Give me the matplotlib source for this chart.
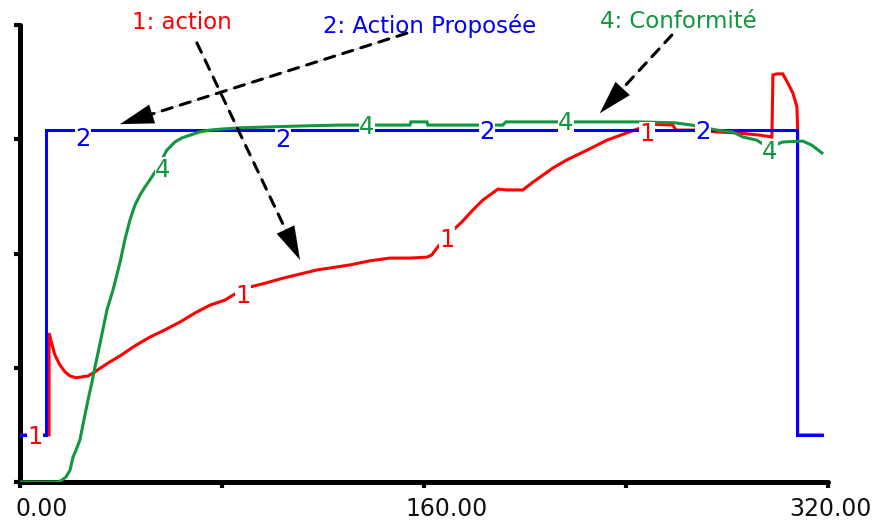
import numpy as np
import matplotlib
matplotlib.use("Agg")
import matplotlib.pyplot as plt

# ---- simulation output (time, value on a 0-100 scale) ----
t_action = [0, 11.7, 11.7, 12.9, 14.0, 16.0, 18.0, 20.0, 22.4, 24.7, 27.1, 29.9, 31.9,
            35.8, 39.8, 45.7, 51.6, 57.6, 63.5, 69.5, 75.4, 81.3, 84.5, 90.0, 97.2,
            104.3, 111.0, 117.7, 124.9, 130.8, 138.7, 146.6, 154.5, 161.3, 163.2,
            165.2, 170.4, 175.1, 179.4, 183.4, 189.4, 192.9, 199.2, 203.2, 211.1,
            216.7, 224.6, 232.5, 240.4, 244.4, 249.5, 258.6, 259.8, 269.3, 276.0,
            283.9, 293.0, 297.8, 298.2, 299.8, 302.1, 304.1, 306.1, 307.7, 308.0,
            308.0, 317.6]
v_action = [10.3, 10.3, 32.6, 30.0, 27.8, 25.6, 24.1, 23.2, 22.8, 23.0, 23.2, 24.1, 24.9,
            26.3, 27.6, 29.8, 31.7, 33.3, 35.0, 37.0, 38.7, 39.8, 40.9, 42.5, 43.5,
            44.6, 45.5, 46.4, 47.0, 47.5, 48.4, 49.0, 49.0, 49.2, 49.7,
            51.2, 54.5, 56.9, 59.5, 61.7, 64.1, 63.9, 63.9, 65.6, 68.7,
            70.5, 72.6, 74.8, 76.4, 77.2, 78.3, 78.1, 77.0, 77.0, 76.6,
            76.4, 75.9, 75.5, 89.1, 89.3, 89.3, 87.3, 85.1, 82.1, 77.0,
            10.3, 10.3]

t_proposee = [0, 10.5, 10.5, 307.7, 307.7, 317.6]
v_proposee = [10.3, 10.3, 77.0, 77.0, 10.3, 10.3]

t_conform = [0, 15.2, 16.8, 18.4, 20.0, 21.2, 22.4, 23.9, 25.5, 27.1, 28.7, 29.9, 31.9,
             33.4, 34.6, 37.0, 39.8, 41.7, 43.7, 45.7, 47.7, 49.7, 51.6, 53.6, 55.6,
             58.3, 61.5, 64.3, 67.5, 71.4, 75.4, 79.3, 87.3, 99.1, 111.0, 126.8,
             154.5, 154.9, 161.3, 161.6, 191.3, 192.5, 244.4, 259.4, 266.1, 276.0,
             282.3, 286.3, 291.8, 295.0, 297.8, 300.2, 302.1, 310.0, 313.6, 317.6]
v_conform = [0, 0, 0.4, 1.1, 2.6, 5.5, 7.0, 9.2, 13.6, 17.9, 21.9, 25.2, 30.4,
             34.4, 37.6, 42.0, 48.1, 53.0, 57.3, 60.6, 62.8, 64.6, 66.1, 67.8, 69.8,
             72.6, 74.4, 75.3, 75.9, 76.6, 77.0, 77.2, 77.5, 77.7, 77.9, 78.1,
             78.1, 78.8, 78.8, 78.1, 78.1, 78.8, 78.8, 78.6, 78.1, 77.0,
             76.6, 75.5, 74.8, 73.7, 73.1, 74.0, 74.4, 74.6, 73.7, 72.0]

series_names = ["1: action", "2: Action Proposée", "4: Conformité"]
series_ids = ["1", "2", "4"]
series_colors = ["#ff0000", "#0000ff", "#11973f"]

# curve identifiers placed along each line
id_pos_action = [(6.1, 9.8), (88.4, 40.7), (169.2, 53.0), (248.3, 76.1)]
id_pos_proposee = [(25.1, 75.1), (104.3, 74.8), (185.0, 76.6), (270.5, 76.6)]
id_pos_conform = [(56.8, 68.3), (137.5, 77.7), (216.3, 78.6), (297.0, 72.2)]

# series titles (x centre, baseline) and the arrows pointing from them to the curves
title_pos = [(64.3, 99.1), (162.4, 98.2), (260.6, 99.3)]
arrow_tail = [(70.2, 96.1), (153.3, 98.2), (258.2, 97.8)]
arrow_tip = [(111.0, 48.6), (39.8, 78.3), (229.7, 80.7)]

x_ticks = [0, 80, 160, 240, 320]
x_tick_labels = ["0.00", "", "160.00", "", "320.00"]
x_label_pos = [-1.5, None, 169.0, None, 320.8]
x_label_ha = ["left", None, "center", None, "center"]
y_ticks = [0, 25, 50, 75, 100]

# ---- figure ----
fig = plt.figure(figsize=(8.74, 5.22), dpi=100)
ax = fig.add_axes([19.5 / 874, 40 / 522, 808.5 / 874, 457 / 522])
ax.set_xlim(0, 320)
ax.set_ylim(0, 100)

lw = 2.2
ax.plot(t_action, v_action, color=series_colors[0], lw=lw, zorder=3,
        solid_joinstyle="miter")
ax.plot(t_proposee, v_proposee, color=series_colors[1], lw=lw, zorder=4,
        solid_joinstyle="miter")
ax.plot(t_conform, v_conform, color=series_colors[2], lw=lw, zorder=5,
        solid_joinstyle="miter")

font = "DejaVu Sans"
for sid, col, positions in zip(series_ids, series_colors,
                               [id_pos_action, id_pos_proposee, id_pos_conform]):
    for (tx, ty) in positions:
        ax.text(tx, ty, sid, color=col, fontsize=17.5, family=font,
                ha="center", va="center", zorder=6,
                bbox=dict(facecolor="white", edgecolor="none", pad=0.3))

for name, col, (tx, ty) in zip(series_names, series_colors, title_pos):
    ax.text(tx, ty, name, color=col, fontsize=16.5, family=font,
            ha="center", va="baseline", clip_on=False, zorder=7)

# dashed arrows with solid triangular heads
head_len_pt = 24
for (x0, y0), (x1, y1) in zip(arrow_tail, arrow_tip):
    ax.annotate("", xy=(x1, y1), xytext=(x0, y0), annotation_clip=False,
                arrowprops=dict(arrowstyle="-", color="black", lw=2.2,
                                linestyle=(0, (3.4, 2.8)), shrinkA=0,
                                shrinkB=head_len_pt * 0.9),
                zorder=8)
    ax.annotate("", xy=(x1, y1), xytext=(x0, y0), annotation_clip=False,
                arrowprops=dict(arrowstyle=f"-|>,head_length={head_len_pt},head_width=7",
                                mutation_scale=1, color="black", lw=0.1,
                                shrinkA=0, shrinkB=0,
                                connectionstyle="arc3,rad=0"),
                zorder=8)

# axes frame: thick left and bottom spines only
for side in ["top", "right"]:
    ax.spines[side].set_visible(False)
for side in ["left", "bottom"]:
    ax.spines[side].set_linewidth(3.6)
    ax.spines[side].set_capstyle("round")
ax.set_xticks(x_ticks)
ax.set_yticks(y_ticks)
ax.set_xticklabels([])
ax.set_yticklabels([])
ax.tick_params(axis="both", direction="out", length=4.5, width=3.0, color="black")

blend = ax.get_xaxis_transform()
for lab, xp, ha in zip(x_tick_labels, x_label_pos, x_label_ha):
    if lab:
        ax.text(xp, -34 / 457, lab, transform=blend, ha=ha, va="baseline",
                fontsize=17, family=font, color="#111111", clip_on=False)

fig.savefig("out.png", dpi=100)
